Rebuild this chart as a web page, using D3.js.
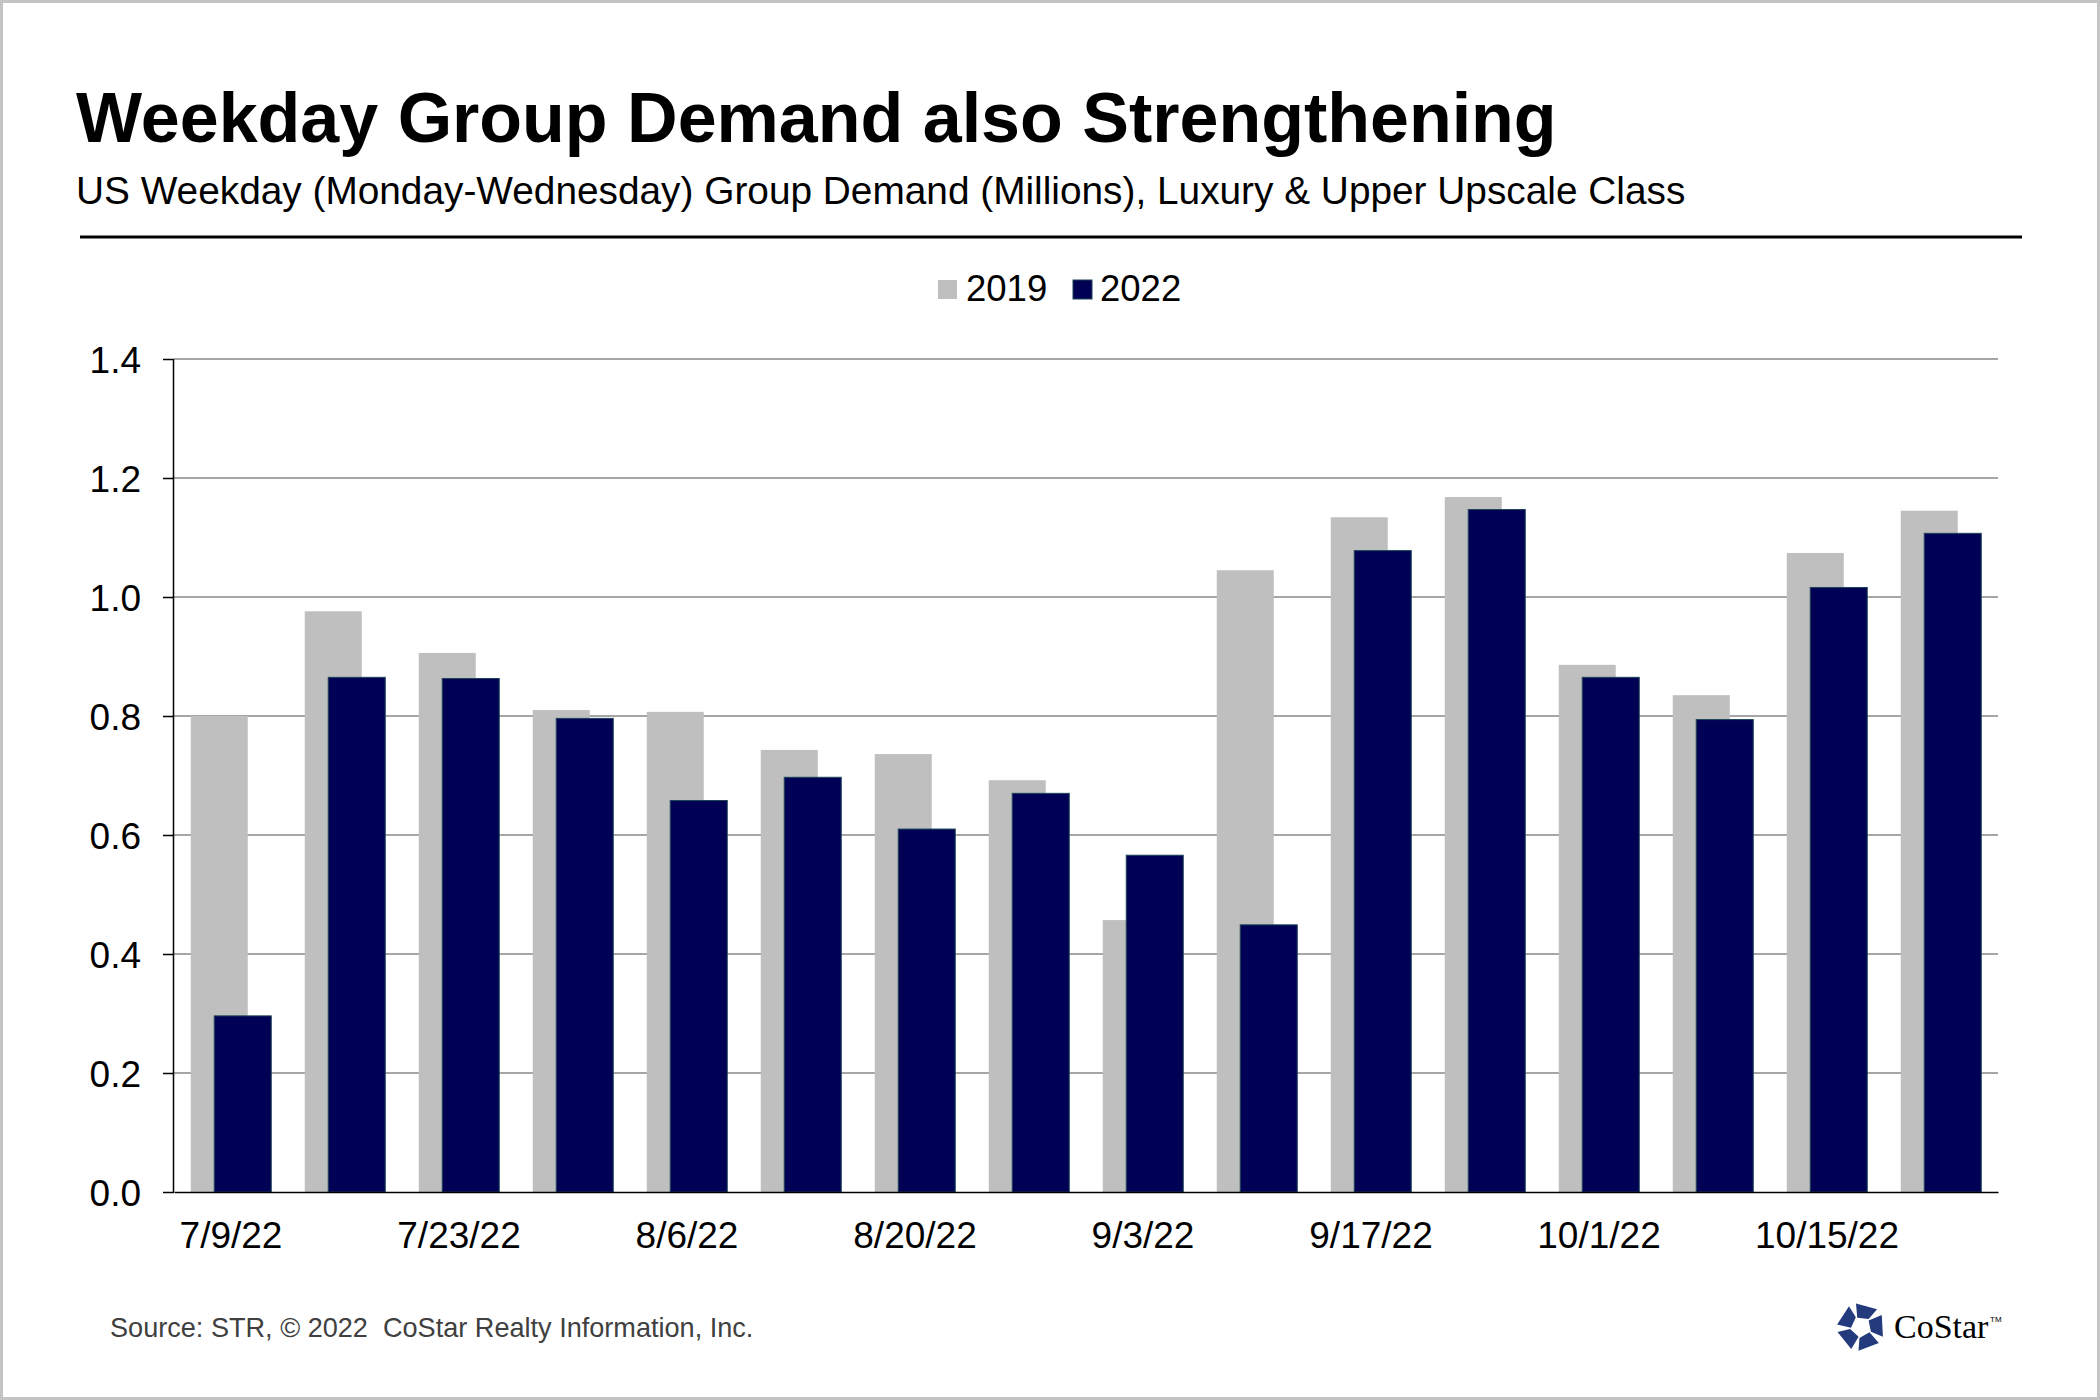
<!DOCTYPE html>
<html>
<head>
<meta charset="utf-8">
<script src="https://cdn.jsdelivr.net/npm/d3@7"></script>
<style>
  body { margin: 0; background: #fff; }
  svg { display: block; }
</style>
</head>
<body>
<div id="chart"></div>
<script>
// week-ending dates and weekday group demand (millions)
const weeks = ["7/9/22", "7/16/22", "7/23/22", "7/30/22", "8/6/22", "8/13/22", "8/20/22", "8/27/22",
               "9/3/22", "9/10/22", "9/17/22", "9/24/22", "10/1/22", "10/8/22", "10/15/22", "10/22/22"];
const demand2019 = [0.800, 0.976, 0.906, 0.810, 0.807, 0.743, 0.736, 0.692,
                    0.457, 1.045, 1.134, 1.168, 0.886, 0.835, 1.074, 1.145];
const demand2022 = [0.296, 0.865, 0.863, 0.796, 0.658, 0.697, 0.610, 0.670,
                    0.566, 0.449, 1.078, 1.147, 0.865, 0.794, 1.016, 1.107];
const yTicks = [0, 0.2, 0.4, 0.6, 0.8, 1.0, 1.2, 1.4];
const seriesNames = ["2019", "2022"];

const W = 2100, H = 1400;
const font = "'Liberation Sans', Arial, sans-serif";
const colors = { "2019": "#bfbfbf", "2022": "#000055" };

const svg = d3.select("#chart").append("svg")
    .attr("width", W)
    .attr("height", H);

// frame
svg.append("rect")
    .attr("x", 1.5).attr("y", 1.5)
    .attr("width", W - 3).attr("height", H - 3)
    .attr("fill", "#fff")
    .attr("stroke", "#c4c4c4")
    .attr("stroke-width", 3);

// title block
svg.append("text")
    .attr("x", 76).attr("y", 142)
    .attr("font-family", font).attr("font-weight", "bold")
    .attr("font-size", 70)
    .attr("fill", "#000")
    .text("Weekday Group Demand also Strengthening");

svg.append("text")
    .attr("x", 76).attr("y", 204)
    .attr("font-family", font)
    .attr("font-size", 38.8)
    .attr("fill", "#000")
    .text("US Weekday (Monday-Wednesday) Group Demand (Millions), Luxury & Upper Upscale Class");

svg.append("line")
    .attr("x1", 80).attr("x2", 2022)
    .attr("y1", 237).attr("y2", 237)
    .attr("stroke", "#000")
    .attr("stroke-width", 3);

// scales
const plot = { left: 174, right: 1998, top: 359, bottom: 1192 };

const x = d3.scaleBand()
    .domain(weeks)
    .range([plot.left, plot.right])
    .padding(0);

const y = d3.scaleLinear()
    .domain([0, 1.4])
    .range([plot.bottom, plot.top]);

const bw = x.bandwidth();
const barW = bw * 0.5;
const shift = bw * 0.206;
const pad = (bw - barW - shift) / 2;

// gridlines
svg.append("g")
    .selectAll("line")
    .data(yTicks.filter(d => d > 0))
    .join("line")
    .attr("x1", plot.left).attr("x2", plot.right)
    .attr("y1", d => y(d)).attr("y2", d => y(d))
    .attr("stroke", "#888")
    .attr("stroke-width", 1.5);

// bars
const table = weeks.map((w, i) => ({ week: w, "2019": demand2019[i], "2022": demand2022[i] }));

seriesNames.forEach((s, si) => {
    svg.append("g")
        .selectAll("rect")
        .data(table)
        .join("rect")
        .attr("x", d => x(d.week) + pad + si * shift)
        .attr("y", d => y(d[s]))
        .attr("width", barW)
        .attr("height", d => y(0) - y(d[s]))
        .attr("fill", colors[s])
        .attr("stroke", si === 1 ? "#1d4457" : "none")
        .attr("stroke-width", si === 1 ? 1 : 0);
});

// y axis
const yAxis = svg.append("g")
    .attr("transform", `translate(${plot.left},0)`)
    .call(d3.axisLeft(y).tickValues(yTicks).tickFormat(d3.format(".1f")).tickSize(11).tickPadding(22));
yAxis.select(".domain").attr("stroke", "#000").attr("stroke-width", 1.5).attr("d", `M-0.5,${plot.bottom}V${plot.top}`);
yAxis.selectAll(".tick line").attr("stroke", "#000").attr("stroke-width", 1.5);
yAxis.selectAll(".tick text")
    .attr("font-family", font).attr("font-size", 37).attr("fill", "#000")
    .attr("dy", "0.36em");

// x axis
const xAxis = svg.append("g")
    .attr("transform", `translate(0,${plot.bottom})`)
    .call(d3.axisBottom(x).tickSize(0).tickPadding(30)
        .tickFormat((d, i) => i % 2 === 0 ? d : ""));
xAxis.select(".domain").attr("stroke", "#000").attr("stroke-width", 1.5);
xAxis.selectAll(".tick text")
    .attr("font-family", font).attr("font-size", 37).attr("fill", "#000");

// legend
const legendPos = [{ x: 938, tx: 966 }, { x: 1073, tx: 1100 }];
const legend = svg.append("g");
seriesNames.forEach((s, i) => {
    legend.append("rect")
        .attr("x", legendPos[i].x).attr("y", 280)
        .attr("width", 19).attr("height", 19)
        .attr("fill", colors[s])
        .attr("stroke", i === 1 ? "#1d4457" : "none");
    legend.append("text")
        .attr("x", legendPos[i].tx).attr("y", 301)
        .attr("font-family", font).attr("font-size", 36.5)
        .attr("fill", "#000")
        .text(s);
});

// footer
svg.append("text")
    .attr("x", 110).attr("y", 1337)
    .attr("font-family", font).attr("font-size", 27.1)
    .attr("fill", "#404040")
    .attr("xml:space", "preserve")
    .style("white-space", "pre")
    .text("Source: STR, \u00a9 2022  CoStar Realty Information, Inc.");

// CoStar logo
const logo = svg.append("g").attr("transform", "translate(1861,1327)");
const polar = (r, a) => [r * Math.cos(a * Math.PI / 180), r * Math.sin(a * Math.PI / 180)];
d3.range(5).forEach(k => {
    const a = -90 + 72 * k + 18;
    const pts = [polar(24, a - 30), polar(24, a + 24), polar(11, a + 26), polar(10, a - 40)];
    logo.append("path")
        .attr("d", "M" + pts.map(p => p.join(",")).join("L") + "Z")
        .attr("fill", "#233b7d");
});
svg.append("text")
    .attr("x", 1894).attr("y", 1338)
    .attr("font-family", "'Liberation Serif', 'Times New Roman', serif")
    .attr("font-size", 34)
    .attr("fill", "#000")
    .text("CoStar");
svg.append("text")
    .attr("x", 1990).attr("y", 1322)
    .attr("font-family", font)
    .attr("font-size", 8)
    .attr("fill", "#000")
    .text("TM");
</script>
</body>
</html>
